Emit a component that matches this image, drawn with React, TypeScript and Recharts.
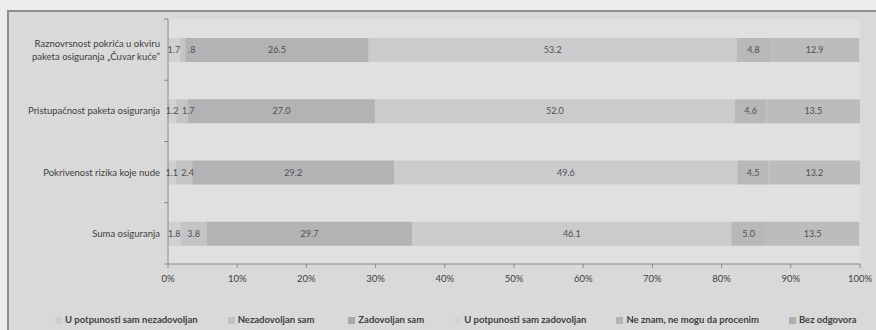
import React from 'react';
import { BarChart, Bar, XAxis, YAxis, CartesianGrid, Legend, LabelList } from 'recharts';

const categories = [
  'Raznovrsnost pokrića u okviru\npaketa osiguranja „Čuvar kuće”',
  'Pristupačnost paketa osiguranja',
  'Pokrivenost rizika koje nude',
  'Suma osiguranja',
];

const seriesNames = [
  'U potpunosti sam nezadovoljan',
  'Nezadovoljan sam',
  'Zadovoljan sam',
  'U potpunosti sam zadovoljan',
  'Ne znam, ne mogu da procenim',
  'Bez odgovora',
];

const potpunoNezadovoljan = [1.7, 1.2, 1.1, 1.8];
const nezadovoljan = [0.8, 1.7, 2.4, 3.8];
const zadovoljan = [26.5, 27.0, 29.2, 29.7];
const potpunoZadovoljan = [53.2, 52.0, 49.6, 46.1];
const neZnam = [4.8, 4.6, 4.5, 5.0];
const bezOdgovora = [12.9, 13.5, 13.2, 13.5];

const xTicks = [0, 10, 20, 30, 40, 50, 60, 70, 80, 90, 100];

const barColors = ['#d1d1d3', '#c4c4c6', '#b3b3b5', '#cbcbcd', '#b8b8ba', '#bcbcbe'];
const legendColors = ['#d0d0d0', '#c2c2c2', '#a9a9a9', '#d4d4d4', '#b4b4b4', '#aeaeae'];

const allSeries = [potpunoNezadovoljan, nezadovoljan, zadovoljan, potpunoZadovoljan, neZnam, bezOdgovora];
const keys = ['s0', 's1', 's2', 's3', 's4', 's5'];

const data = categories.map((name, i) => {
  const row: any = { name };
  allSeries.forEach((s, j) => {
    row[keys[j]] = s[i];
  });
  return row;
});

const FONT = 'Lato, "Open Sans", sans-serif';
const BAND = 61.25;

const formatValue = (v: any) => {
  const n = Number(v);
  const s = n.toFixed(1);
  return n < 1 ? s.slice(1) : s;
};

// small segments: keep label clear of the one before it
const NudgedLabel = (props: any) => {
  const { x, y, width, height, value } = props;
  const cx = Math.max(x + width / 2, x + 12);
  return (
    <text x={cx} y={y + height / 2} dy={3.2} textAnchor="middle" fontSize={9} fontFamily={FONT} fill="#505050">
      {formatValue(value)}
    </text>
  );
};

const CategoryTick = ({ x, y, payload, index }: any) => {
  const lines = String(payload.value).split('\n');
  const axisX = x + 8;
  return (
    <g>
      <line x1={axisX - 4} x2={axisX} y1={y - BAND / 2} y2={y - BAND / 2} stroke="#888" />
      {index === categories.length - 1 && (
        <line x1={axisX - 4} x2={axisX} y1={y + BAND / 2} y2={y + BAND / 2} stroke="#888" />
      )}
      <text x={x} y={y} textAnchor="end" fontSize={9.5} fontFamily={FONT} fill="#404040">
        {lines.map((l, k) => (
          <tspan key={k} x={x} dy={k === 0 ? (lines.length === 1 ? 3.5 : -3) : 13}>
            {l}
          </tspan>
        ))}
      </text>
    </g>
  );
};

const renderLegend = () => (
  <div
    style={{
      display: 'flex',
      alignItems: 'center',
      paddingLeft: 46,
      height: 16,
      lineHeight: '16px',
      fontFamily: FONT,
      fontSize: 9.5,
      fontWeight: 700,
      color: '#404040',
      whiteSpace: 'nowrap',
    }}
  >
    {seriesNames.map((n, i) => (
      <div key={n} style={{ display: 'flex', alignItems: 'center', marginRight: i === 1 ? 34 : 30 }}>
        <span style={{ width: 7, height: 7, background: legendColors[i], marginRight: 3, display: 'inline-block' }} />
        <span>{n}</span>
      </div>
    ))}
  </div>
);

const App: React.FC = () => {
  return (
    <div style={{ width: 876, height: 330, background: '#ececec', position: 'fixed', left: 0, top: 0, overflow: 'hidden' }}>
      <div
        style={{
          position: 'absolute',
          left: 7,
          top: 10,
          width: 869,
          height: 320,
          borderLeft: '2px solid #8e8e8e',
          borderTop: '2px solid #8e8e8e',
          background: '#d9d9d9',
        }}
      >
        <BarChart
          width={867}
          height={318}
          data={data}
          layout="vertical"
          barSize={24}
          margin={{ top: 7, right: 16, left: 0, bottom: 4 }}
        >
          <CartesianGrid horizontal={false} vertical={false} fill="#dfe0e2" stroke="none" />
          <XAxis
            type="number"
            domain={[0, 100]}
            ticks={xTicks}
            tickFormatter={(v) => `${v}%`}
            height={46}
            tickSize={4}
            tickMargin={7}
            stroke="#888"
            tick={{ fontSize: 9.5, fontFamily: FONT, fill: '#404040' }}
            interval={0}
          />
          <YAxis
            type="category"
            dataKey="name"
            width={159}
            tickSize={0}
            tickMargin={8}
            stroke="#888"
            tick={<CategoryTick />}
            interval={0}
          />
          <Legend
            verticalAlign="bottom"
            height={16}
            content={renderLegend}
            wrapperStyle={{ top: 300, bottom: 'auto', left: 0 }}
          />
          {keys.map((k, i) => (
            <Bar key={k} dataKey={k} name={seriesNames[i]} stackId="a" fill={barColors[i]} isAnimationActive={false}>
              {i === 1 ? (
                <LabelList dataKey={k} content={<NudgedLabel />} />
              ) : (
                <LabelList
                  dataKey={k}
                  position="center"
                  formatter={formatValue}
                  style={{ fontSize: 9, fontFamily: FONT, fill: '#505050' }}
                />
              )}
            </Bar>
          ))}
        </BarChart>
      </div>
    </div>
  );
};

export default App;
